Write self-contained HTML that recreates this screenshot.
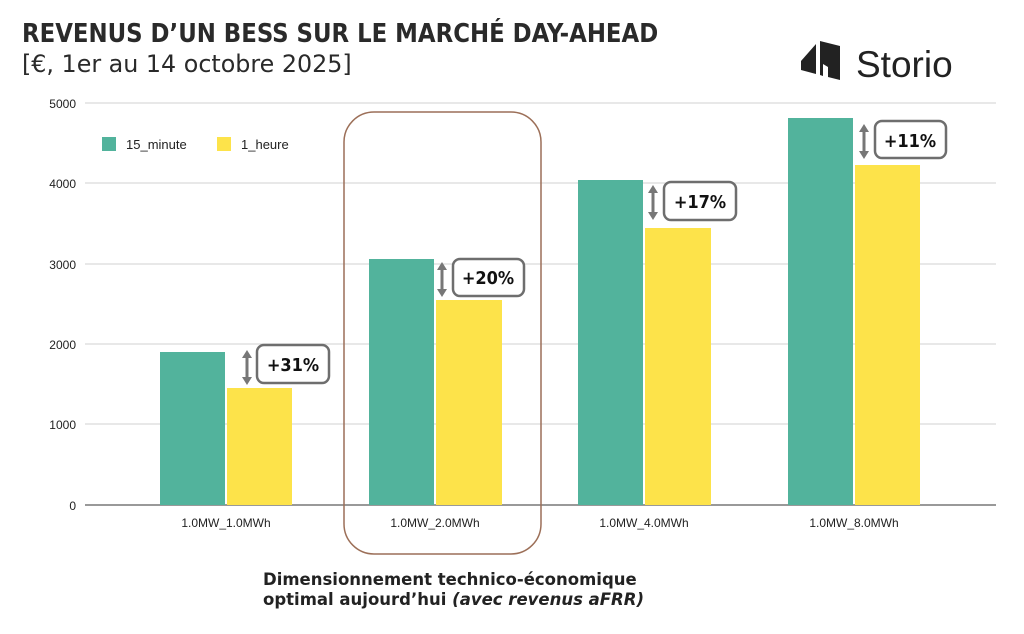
<!DOCTYPE html>
<html><head><meta charset="utf-8"><style>
body{margin:0;background:#fff;}
svg{display:block;font-family:"Liberation Sans",sans-serif;}
</style></head><body>
<svg width="1024" height="634" viewBox="0 0 1024 634">
<rect width="1024" height="634" fill="#fff"/>
<text x="22" y="42" font-size="25.4" font-weight="bold" fill="#2a2a2a" font-family="'DejaVu Sans Condensed','DejaVu Sans',sans-serif" style="font-stretch:condensed">REVENUS D’UN BESS SUR LE MARCHÉ DAY-AHEAD</text>
<text x="22" y="72" font-size="23.8" fill="#2a2a2a" font-family="'DejaVu Sans',sans-serif">[€, 1er au 14 octobre 2025]</text>
<!-- logo -->
<polygon points="801,61 816,44 816,74 801,70" fill="#222"/>
<polygon points="820,41 840,46 840,80 828,77 828,67 823,64 823,76 820,75" fill="#222"/>
<text x="856" y="77" font-size="37" fill="#222">Storio</text>
<!-- grid -->
<g stroke="#d0d0d0" stroke-width="1">
<line x1="85" y1="103" x2="996" y2="103"/>
<line x1="85" y1="183" x2="996" y2="183"/>
<line x1="85" y1="264" x2="996" y2="264"/>
<line x1="85" y1="344" x2="996" y2="344"/>
<line x1="85" y1="424" x2="996" y2="424"/>
</g>
<line x1="85" y1="505" x2="996" y2="505" stroke="#333" stroke-width="1"/>
<g font-size="12" fill="#222" text-anchor="end">
<text x="76" y="108">5000</text><text x="76" y="188">4000</text><text x="76" y="269">3000</text>
<text x="76" y="349">2000</text><text x="76" y="429">1000</text><text x="76" y="510">0</text>
</g>
<!-- bars -->
<g fill="#52b39c">
<rect x="160" y="352" width="65" height="153"/>
<rect x="369" y="259" width="65" height="246"/>
<rect x="578" y="180" width="65" height="325"/>
<rect x="788" y="118" width="65" height="387"/>
</g>
<g fill="#fde34a">
<rect x="227" y="388" width="65" height="117"/>
<rect x="436" y="300" width="66" height="205"/>
<rect x="645" y="228" width="66" height="277"/>
<rect x="855" y="165" width="65" height="340"/>
</g>
<g font-size="12" fill="#222" text-anchor="middle">
<text x="226" y="527">1.0MW_1.0MWh</text><text x="435" y="527">1.0MW_2.0MWh</text>
<text x="644" y="527">1.0MW_4.0MWh</text><text x="854" y="527">1.0MW_8.0MWh</text>
</g>
<!-- legend -->
<rect x="102" y="137" width="14" height="14" fill="#52b39c"/>
<text x="126" y="149" font-size="13" fill="#222">15_minute</text>
<rect x="217" y="137" width="14" height="14" fill="#fde34a"/>
<text x="241" y="149" font-size="13" fill="#222">1_heure</text>
<!-- highlight -->
<rect x="344" y="112" width="197" height="442" rx="30" fill="none" stroke="#9c6f58" stroke-width="1.5"/>
<!-- arrows & boxes -->
<g fill="#777">
<g transform="translate(247,350)"><polygon points="0,0 -5,8 5,8"/><rect x="-1.5" y="7" width="3" height="21"/><polygon points="0,35 -5,27 5,27"/></g>
<g transform="translate(442,262)"><polygon points="0,0 -5,8 5,8"/><rect x="-1.5" y="7" width="3" height="21"/><polygon points="0,35 -5,27 5,27"/></g>
<g transform="translate(653,185)"><polygon points="0,0 -5,8 5,8"/><rect x="-1.5" y="7" width="3" height="21"/><polygon points="0,35 -5,27 5,27"/></g>
<g transform="translate(864,124)"><polygon points="0,0 -5,8 5,8"/><rect x="-1.5" y="7" width="3" height="21"/><polygon points="0,35 -5,27 5,27"/></g>
</g>
<g fill="#fff" stroke="#6e6e6e" stroke-width="2.5">
<rect x="257" y="345" width="72" height="38" rx="7"/>
<rect x="453" y="259" width="71" height="37" rx="7"/>
<rect x="664" y="182" width="72" height="38" rx="7"/>
<rect x="875" y="121" width="71" height="37" rx="7"/>
</g>
<g font-size="18" font-weight="bold" fill="#111" text-anchor="middle" font-family="'DejaVu Sans Condensed','DejaVu Sans',sans-serif" style="font-stretch:condensed">
<text x="293" y="371">+31%</text><text x="488" y="284">+20%</text>
<text x="700" y="208">+17%</text><text x="910" y="147">+11%</text>
</g>
<g font-size="16.5" font-weight="bold" fill="#222" font-family="'DejaVu Sans',sans-serif">
<text x="263" y="585">Dimensionnement technico-économique</text>
<text x="263" y="605">optimal aujourd’hui <tspan font-style="italic">(avec revenus aFRR)</tspan></text>
</g>
</svg>
</body></html>
